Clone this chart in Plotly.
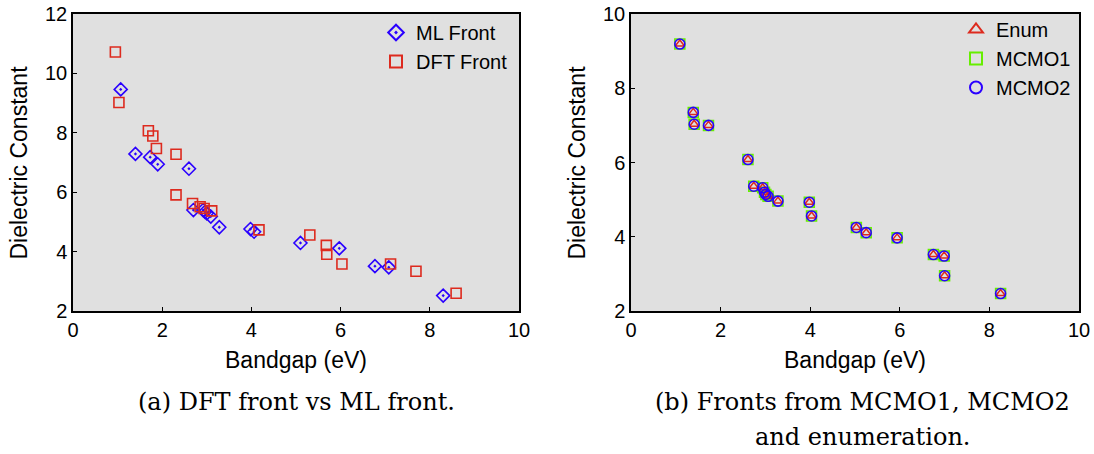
import plotly.graph_objects as go

# (a) ML-predicted Pareto front vs DFT Pareto front
ml_bandgap = [1.07, 1.40, 1.73, 1.90, 2.60, 2.70, 2.92, 2.96, 3.00, 3.09, 3.28,
              3.98, 4.06, 5.10, 5.97, 6.77, 7.08, 8.30]
ml_dielectric = [9.46, 7.29, 7.18, 6.94, 6.79, 5.40, 5.40, 5.34, 5.29, 5.18, 4.82,
                 4.76, 4.67, 4.29, 4.11, 3.51, 3.47, 2.52]

dft_bandgap = [0.95, 1.03, 1.69, 1.79, 1.87, 2.31, 2.31, 2.68, 2.85, 2.94, 3.11,
               4.17, 5.31, 5.68, 5.69, 6.03, 7.12, 7.69, 8.59]
dft_dielectric = [10.72, 9.02, 8.07, 7.89, 7.47, 7.28, 5.91, 5.62, 5.51, 5.45, 5.37,
                  4.73, 4.56, 4.21, 3.91, 3.58, 3.58, 3.34, 2.60]

# (b) fronts found by enumeration, MCMO1 and MCMO2
enum_bandgap = [1.09, 1.39, 1.41, 1.73, 2.61, 2.74, 2.94, 2.98, 3.01, 3.06, 3.28,
                3.98, 4.03, 5.03, 5.25, 5.94, 6.75, 6.99, 7.00, 8.25]
enum_dielectric = [9.19, 7.35, 7.03, 7.00, 6.08, 5.36, 5.32, 5.20, 5.14, 5.09, 4.96,
                   4.93, 4.56, 4.25, 4.11, 3.97, 3.52, 3.48, 2.95, 2.47]
mcmo1_bandgap = list(enum_bandgap)
mcmo1_dielectric = list(enum_dielectric)
mcmo2_bandgap = list(enum_bandgap)
mcmo2_dielectric = list(enum_dielectric)

x_ticks = [0, 2, 4, 6, 8, 10]
y_ticks_a = [2, 4, 6, 8, 10, 12]
y_ticks_b = [2, 4, 6, 8, 10]

FONT = "Liberation Sans, Arial, sans-serif"
SERIF = "DejaVu Serif, serif"
W, H = 1094, 454

BLUE = "#2a00ff"
RED = "#dd2a1e"
GREEN = "#66ee00"

fig = go.Figure()

fig.add_trace(go.Scatter(
    x=ml_bandgap, y=ml_dielectric, mode="markers", name="ML Front",
    marker=dict(symbol="diamond-open-dot", size=10, color=BLUE,
                line=dict(width=1.6, color=BLUE)),
    xaxis="x", yaxis="y", legend="legend"))
fig.add_trace(go.Scatter(
    x=dft_bandgap, y=dft_dielectric, mode="markers", name="DFT Front",
    marker=dict(symbol="square-open", size=10, color=RED,
                line=dict(width=1.6, color=RED)),
    xaxis="x", yaxis="y", legend="legend"))

fig.add_trace(go.Scatter(
    x=mcmo1_bandgap, y=mcmo1_dielectric, mode="markers", name="MCMO1",
    marker=dict(symbol="square-open", size=10, color=GREEN,
                line=dict(width=1.5, color=GREEN)),
    xaxis="x2", yaxis="y2", legend="legend2", legendrank=2))
fig.add_trace(go.Scatter(
    x=enum_bandgap, y=enum_dielectric, mode="markers", name="Enum",
    marker=dict(symbol="triangle-up-open", size=8, color=RED,
                line=dict(width=1.5, color=RED)),
    xaxis="x2", yaxis="y2", legend="legend2", legendrank=1))
fig.add_trace(go.Scatter(
    x=mcmo2_bandgap, y=mcmo2_dielectric, mode="markers", name="MCMO2",
    marker=dict(symbol="circle-open", size=10, color=BLUE,
                line=dict(width=1.6, color=BLUE)),
    xaxis="x2", yaxis="y2", legend="legend2", legendrank=3))

axis_common = dict(
    showgrid=False, zeroline=False, showline=True, linecolor="black", linewidth=1.5,
    mirror=True, ticks="inside", ticklen=4, tickwidth=1, tickcolor="black",
    tickfont=dict(family=FONT, size=20, color="black"), automargin=False,
)

# plot-area pixel boxes
left_box = (73, 519)
right_box = (631, 1079)
top_px, bottom_px = 14, 311
ydom = [1 - bottom_px / H, 1 - top_px / H]

fig.update_layout(
    width=W, height=H,
    margin=dict(l=0, r=0, t=0, b=0, autoexpand=False),
    paper_bgcolor="white",
    plot_bgcolor="#e0e0e0",
    font=dict(family=FONT, color="black"),
    xaxis=dict(domain=[left_box[0] / W, left_box[1] / W], range=[0, 10],
               tickvals=x_ticks, anchor="y", **axis_common),
    yaxis=dict(domain=ydom, range=[2, 12], tickvals=y_ticks_a,
               anchor="x", **axis_common),
    xaxis2=dict(domain=[right_box[0] / W, right_box[1] / W], range=[0, 10],
                tickvals=x_ticks, anchor="y2", **axis_common),
    yaxis2=dict(domain=ydom, range=[2, 10], tickvals=y_ticks_b,
                anchor="x2", **axis_common),
    legend=dict(x=376 / W, y=1 - 13 / H, xanchor="left", yanchor="top",
                bgcolor="rgba(0,0,0,0)", font=dict(family=FONT, size=20),
                itemsizing="constant", tracegroupgap=0),
    legend2=dict(x=956 / W, y=1 - 10 / H, xanchor="left", yanchor="top",
                 bgcolor="rgba(0,0,0,0)", font=dict(family=FONT, size=20),
                 itemsizing="constant", traceorder="normal"),
    showlegend=True,
)

# axis titles
for box in (left_box, right_box):
    cx = (box[0] + box[1]) / 2
    fig.add_annotation(x=cx / W, y=1 - 360 / H, xref="paper", yref="paper",
                       text="Bandgap (eV)", showarrow=False,
                       xanchor="center", yanchor="middle",
                       font=dict(family=FONT, size=23, color="black"))
    fig.add_annotation(x=(box[0] - 55) / W, y=1 - (top_px + bottom_px) / 2 / H,
                       xref="paper", yref="paper",
                       text="Dielectric Constant", showarrow=False, textangle=-90,
                       xanchor="center", yanchor="middle",
                       font=dict(family=FONT, size=23, color="black"))

captions = [
    dict(x=296, y=402, text="(a) DFT front vs ML front."),
    dict(x=862, y=402, text="(b) Fronts from MCMO1, MCMO2"),
    dict(x=862, y=437, text="and enumeration."),
]
for c in captions:
    fig.add_annotation(
        x=c["x"] / W, y=1 - c["y"] / H, xref="paper", yref="paper",
        text=c["text"], showarrow=False, xanchor="center", yanchor="middle",
        font=dict(family=SERIF, size=24, color="black"))

fig.write_html("out.html")
